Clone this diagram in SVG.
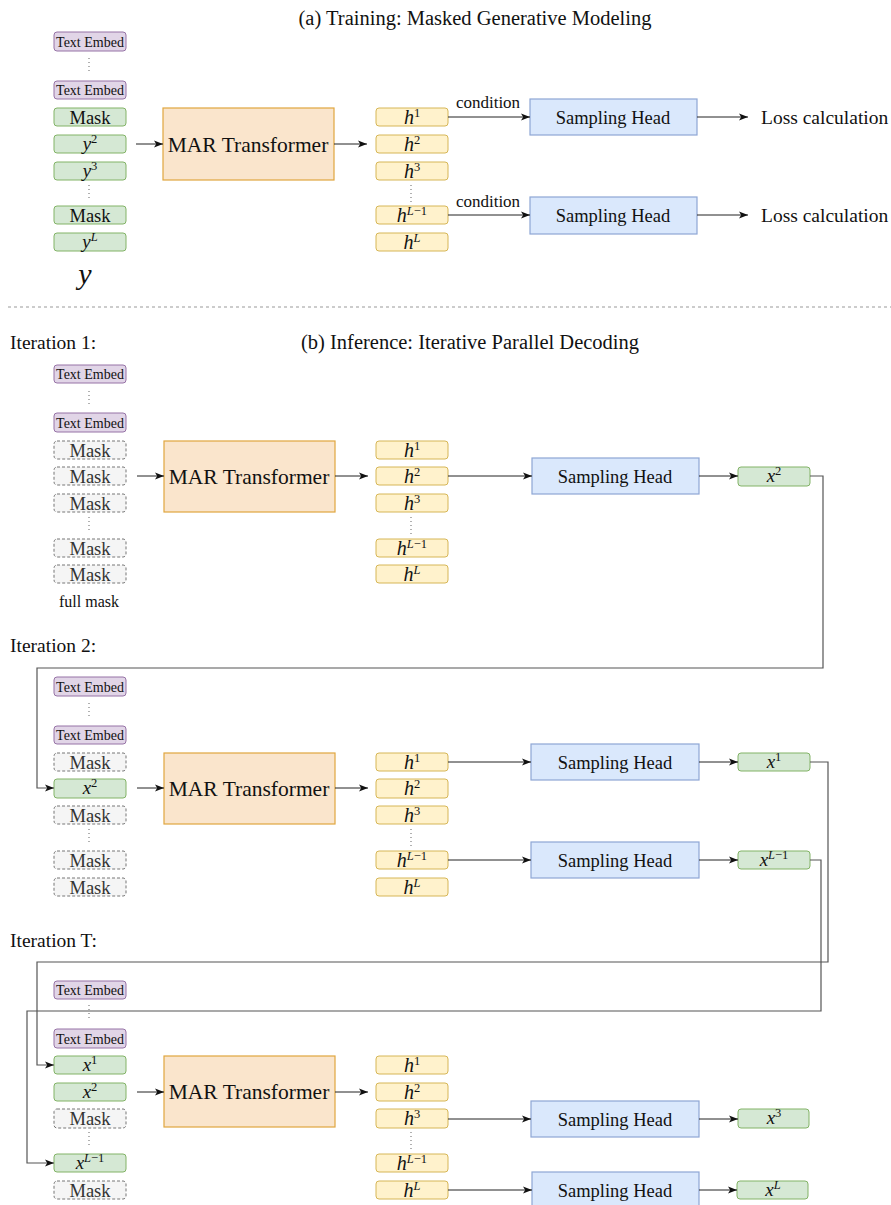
<svg xmlns="http://www.w3.org/2000/svg" width="891" height="1205" viewBox="0 0 891 1205">
<defs>
<marker id="ah" markerUnits="userSpaceOnUse" markerWidth="10" markerHeight="8" refX="9" refY="4" orient="auto">
<path d="M0,0.5 L9,4 L0,7.5 L2.2,4 z" fill="#111"/>
</marker>
<style>
text{font-family:"Liberation Serif","Times New Roman",serif;fill:#111}
.te rect{fill:#e1d5e7;stroke:#9673a6;stroke-width:1}
.te text{font-size:14px;text-anchor:middle}
.gm rect{fill:#d5e8d4;stroke:#82b366;stroke-width:1}
.gm text{font-size:18.5px;text-anchor:middle}
.dm rect{fill:#f5f5f5;stroke:#777;stroke-width:1;stroke-dasharray:3,2}
.dm text{font-size:18.5px;text-anchor:middle;fill:#333}
.hb rect{fill:#fff2cc;stroke:#d6b656;stroke-width:1}
.hb text{font-size:20px}
.hb text,.gm text.m{font-style:italic;text-anchor:middle}
.gm text.m{font-size:19px}
.s{font-size:12.5px}
.mar rect{fill:#fae5cc;stroke:#e0a63e;stroke-width:1.2}
.mar text{font-size:21.5px;text-anchor:middle}
.sh rect{fill:#dae8fc;stroke:#8ea6d4;stroke-width:1.2}
.sh text{font-size:18.5px;text-anchor:middle}
.up{font-style:normal}
.lbl{font-size:19.5px}
.ttl{font-size:20.5px}
.it{font-size:19.5px}
.cond{font-size:17px;text-anchor:middle}
.dots line{stroke:#888;stroke-width:1.3;stroke-dasharray:1,3}
.conn path{fill:none;stroke:#222;stroke-width:1}
.fb path{fill:none;stroke:#555;stroke-width:1.2}
</style>
</defs>
<rect width="891" height="1205" fill="#fff"/>

<!-- titles -->
<text class="ttl" x="475" y="25" text-anchor="middle">(a) Training: Masked Generative Modeling</text>
<text class="ttl" x="470" y="349" text-anchor="middle">(b) Inference: Iterative Parallel Decoding</text>
<text class="it" x="10" y="349">Iteration 1:</text>
<text class="it" x="10" y="652">Iteration 2:</text>
<text class="it" x="10" y="947">Iteration T:</text>
<line x1="8" y1="307" x2="891" y2="307" stroke="#999" stroke-width="1" stroke-dasharray="3,3"/>

<!-- ===== Section (a) ===== -->
<g id="a-te1" class="te"><rect x="54" y="32" width="72" height="19" rx="3"/><text x="90" y="46.5">Text Embed</text></g>
<g id="a-te2" class="te"><rect x="54" y="81" width="72" height="18" rx="3"/><text x="90" y="95">Text Embed</text></g>
<g id="a-mask1" class="gm"><rect x="54" y="108" width="72" height="18" rx="3"/><text x="90" y="123.5">Mask</text></g>
<g id="a-y2" class="gm"><rect x="54" y="135" width="72" height="18" rx="3"/><text class="m" x="90" y="150">y<tspan class="up s" dy="-7.5">2</tspan></text></g>
<g id="a-y3" class="gm"><rect x="54" y="162" width="72" height="18" rx="3"/><text class="m" x="90" y="177">y<tspan class="up s" dy="-7.5">3</tspan></text></g>
<g id="a-mask2" class="gm"><rect x="54" y="206" width="72" height="18" rx="3"/><text x="90" y="221.5">Mask</text></g>
<g id="a-yL" class="gm"><rect x="54" y="233" width="72" height="18" rx="3"/><text class="m" x="90" y="248">y<tspan class="s" dy="-7.5">L</tspan></text></g>
<text x="85" y="284" font-size="30" font-style="italic" text-anchor="middle">y</text>

<g id="a-mar" class="mar"><rect x="163" y="108" width="171" height="72"/><text x="248" y="151.5">MAR Transformer</text></g>

<g id="a-h1" class="hb"><rect x="376" y="108" width="72" height="18" rx="3"/><text x="412" y="124">h<tspan class="up s" dy="-7.5">1</tspan></text></g>
<g id="a-h2" class="hb"><rect x="376" y="135" width="72" height="18" rx="3"/><text x="412" y="151">h<tspan class="up s" dy="-7.5">2</tspan></text></g>
<g id="a-h3" class="hb"><rect x="376" y="162" width="72" height="18" rx="3"/><text x="412" y="178">h<tspan class="up s" dy="-7.5">3</tspan></text></g>
<g id="a-hL1" class="hb"><rect x="376" y="206" width="72" height="18" rx="3"/><text x="412" y="222">h<tspan class="s" dy="-7.5">L</tspan><tspan class="up s">−1</tspan></text></g>
<g id="a-hL" class="hb"><rect x="376" y="233" width="72" height="18" rx="3"/><text x="412" y="249">h<tspan class="s" dy="-7.5">L</tspan></text></g>

<g id="a-sh1" class="sh"><rect x="530" y="99" width="167" height="36"/><text x="613" y="123.5">Sampling Head</text></g>
<g id="a-sh2" class="sh"><rect x="530" y="197" width="167" height="37"/><text x="613" y="222">Sampling Head</text></g>
<text class="lbl" x="761" y="123.5">Loss calculation</text>
<text class="lbl" x="761" y="222">Loss calculation</text>
<text class="cond" x="488" y="108">condition</text>
<text class="cond" x="488" y="207">condition</text>

<!-- ===== Iteration 1 ===== -->
<g id="b1-te1" class="te"><rect x="54" y="365" width="72" height="18" rx="3"/><text x="90" y="379">Text Embed</text></g>
<g id="b1-te2" class="te"><rect x="54" y="413" width="72" height="19" rx="3"/><text x="90" y="427.5">Text Embed</text></g>
<g id="b1-m1" class="dm"><rect x="54" y="441" width="72" height="18" rx="3"/><text x="90" y="456.5">Mask</text></g>
<g id="b1-m2" class="dm"><rect x="54" y="467" width="72" height="18" rx="3"/><text x="90" y="482.5">Mask</text></g>
<g id="b1-m3" class="dm"><rect x="54" y="494" width="72" height="18" rx="3"/><text x="90" y="509.5">Mask</text></g>
<g id="b1-m4" class="dm"><rect x="54" y="539" width="72" height="18" rx="3"/><text x="90" y="554.5">Mask</text></g>
<g id="b1-m5" class="dm"><rect x="54" y="565" width="72" height="18" rx="3"/><text x="90" y="580.5">Mask</text></g>
<text x="89" y="607" font-size="16" text-anchor="middle">full mask</text>

<g id="b1-mar" class="mar"><rect x="164" y="441" width="171" height="71"/><text x="249" y="484">MAR Transformer</text></g>

<g id="b1-h1" class="hb"><rect x="376" y="441" width="72" height="18" rx="3"/><text x="412" y="457">h<tspan class="up s" dy="-7.5">1</tspan></text></g>
<g id="b1-h2" class="hb"><rect x="376" y="467" width="72" height="18" rx="3"/><text x="412" y="483">h<tspan class="up s" dy="-7.5">2</tspan></text></g>
<g id="b1-h3" class="hb"><rect x="376" y="494" width="72" height="18" rx="3"/><text x="412" y="510">h<tspan class="up s" dy="-7.5">3</tspan></text></g>
<g id="b1-hL1" class="hb"><rect x="376" y="539" width="72" height="18" rx="3"/><text x="412" y="555">h<tspan class="s" dy="-7.5">L</tspan><tspan class="up s">−1</tspan></text></g>
<g id="b1-hL" class="hb"><rect x="376" y="565" width="72" height="18" rx="3"/><text x="412" y="581">h<tspan class="s" dy="-7.5">L</tspan></text></g>

<g id="b1-sh" class="sh"><rect x="532" y="458" width="167" height="36"/><text x="615" y="482.5">Sampling Head</text></g>
<g id="b1-x2" class="gm"><rect x="738" y="467" width="72" height="19" rx="3"/><text class="m" x="774" y="482">x<tspan class="up s" dy="-7.5">2</tspan></text></g>

<!-- ===== Iteration 2 ===== -->
<g id="b2-te1" class="te"><rect x="54" y="677" width="72" height="19" rx="3"/><text x="90" y="691.5">Text Embed</text></g>
<g id="b2-te2" class="te"><rect x="54" y="726" width="72" height="18" rx="3"/><text x="90" y="740">Text Embed</text></g>
<g id="b2-m1" class="dm"><rect x="54" y="753" width="72" height="18" rx="3"/><text x="90" y="768.5">Mask</text></g>
<g id="b2-x2" class="gm"><rect x="54" y="779" width="72" height="19" rx="3"/><text class="m" x="90" y="794">x<tspan class="up s" dy="-7.5">2</tspan></text></g>
<g id="b2-m2" class="dm"><rect x="54" y="806" width="72" height="18" rx="3"/><text x="90" y="821.5">Mask</text></g>
<g id="b2-m3" class="dm"><rect x="54" y="851" width="72" height="18" rx="3"/><text x="90" y="866.5">Mask</text></g>
<g id="b2-m4" class="dm"><rect x="54" y="878" width="72" height="18" rx="3"/><text x="90" y="893.5">Mask</text></g>

<g id="b2-mar" class="mar"><rect x="164" y="753" width="171" height="71"/><text x="249" y="796">MAR Transformer</text></g>

<g id="b2-h1" class="hb"><rect x="376" y="753" width="72" height="18" rx="3"/><text x="412" y="769">h<tspan class="up s" dy="-7.5">1</tspan></text></g>
<g id="b2-h2" class="hb"><rect x="376" y="779" width="72" height="19" rx="3"/><text x="412" y="795">h<tspan class="up s" dy="-7.5">2</tspan></text></g>
<g id="b2-h3" class="hb"><rect x="376" y="806" width="72" height="18" rx="3"/><text x="412" y="822">h<tspan class="up s" dy="-7.5">3</tspan></text></g>
<g id="b2-hL1" class="hb"><rect x="376" y="851" width="72" height="18" rx="3"/><text x="412" y="867">h<tspan class="s" dy="-7.5">L</tspan><tspan class="up s">−1</tspan></text></g>
<g id="b2-hL" class="hb"><rect x="376" y="878" width="72" height="18" rx="3"/><text x="412" y="894">h<tspan class="s" dy="-7.5">L</tspan></text></g>

<g id="b2-sh1" class="sh"><rect x="531" y="744" width="168" height="36"/><text x="615" y="768.5">Sampling Head</text></g>
<g id="b2-sh2" class="sh"><rect x="531" y="842" width="168" height="36"/><text x="615" y="866.5">Sampling Head</text></g>
<g id="b2-x1" class="gm"><rect x="738" y="753" width="72" height="18" rx="3"/><text class="m" x="774" y="768">x<tspan class="up s" dy="-7.5">1</tspan></text></g>
<g id="b2-xL1" class="gm"><rect x="738" y="851" width="72" height="18" rx="3"/><text class="m" x="774" y="866">x<tspan class="s" dy="-7.5">L</tspan><tspan class="up s">−1</tspan></text></g>

<!-- ===== Iteration T ===== -->
<g id="bT-te1" class="te"><rect x="54" y="981" width="72" height="18" rx="3"/><text x="90" y="995">Text Embed</text></g>
<g id="bT-te2" class="te"><rect x="54" y="1029" width="72" height="19" rx="3"/><text x="90" y="1043.5">Text Embed</text></g>
<g id="bT-x1" class="gm"><rect x="54" y="1056" width="72" height="18" rx="3"/><text class="m" x="90" y="1071">x<tspan class="up s" dy="-7.5">1</tspan></text></g>
<g id="bT-x2" class="gm"><rect x="54" y="1083" width="72" height="18" rx="3"/><text class="m" x="90" y="1098">x<tspan class="up s" dy="-7.5">2</tspan></text></g>
<g id="bT-m1" class="dm"><rect x="54" y="1109" width="72" height="19" rx="3"/><text x="90" y="1125">Mask</text></g>
<g id="bT-xL1" class="gm"><rect x="54" y="1154" width="72" height="18" rx="3"/><text class="m" x="90" y="1169">x<tspan class="s" dy="-7.5">L</tspan><tspan class="up s">−1</tspan></text></g>
<g id="bT-m2" class="dm"><rect x="54" y="1181" width="72" height="18" rx="3"/><text x="90" y="1196.5">Mask</text></g>

<g id="bT-mar" class="mar"><rect x="164" y="1056" width="171" height="71"/><text x="249" y="1099">MAR Transformer</text></g>

<g id="bT-h1" class="hb"><rect x="376" y="1056" width="72" height="18" rx="3"/><text x="412" y="1072">h<tspan class="up s" dy="-7.5">1</tspan></text></g>
<g id="bT-h2" class="hb"><rect x="376" y="1083" width="72" height="18" rx="3"/><text x="412" y="1099">h<tspan class="up s" dy="-7.5">2</tspan></text></g>
<g id="bT-h3" class="hb"><rect x="376" y="1109" width="72" height="19" rx="3"/><text x="412" y="1125">h<tspan class="up s" dy="-7.5">3</tspan></text></g>
<g id="bT-hL1" class="hb"><rect x="376" y="1154" width="72" height="18" rx="3"/><text x="412" y="1170">h<tspan class="s" dy="-7.5">L</tspan><tspan class="up s">−1</tspan></text></g>
<g id="bT-hL" class="hb"><rect x="376" y="1181" width="72" height="18" rx="3"/><text x="412" y="1197">h<tspan class="s" dy="-7.5">L</tspan></text></g>

<g id="bT-sh1" class="sh"><rect x="531" y="1101" width="168" height="36"/><text x="615" y="1125.5">Sampling Head</text></g>
<g id="bT-sh2" class="sh"><rect x="532" y="1172" width="167" height="40"/><text x="615" y="1196.5">Sampling Head</text></g>
<g id="bT-x3" class="gm"><rect x="738" y="1109" width="71" height="19" rx="3"/><text class="m" x="774" y="1124">x<tspan class="up s" dy="-7.5">3</tspan></text></g>
<g id="bT-xL" class="gm"><rect x="737" y="1181" width="71" height="18" rx="3"/><text class="m" x="773" y="1196">x<tspan class="s" dy="-7.5">L</tspan></text></g>

<!-- vertical ellipses -->
<g class="dots">
<line x1="89" y1="58" x2="89" y2="74"/>
<line x1="89" y1="185" x2="89" y2="201"/>
<line x1="411" y1="185" x2="411" y2="202"/>
<line x1="89" y1="391" x2="89" y2="407"/>
<line x1="89" y1="517" x2="89" y2="533"/>
<line x1="411" y1="517" x2="411" y2="534"/>
<line x1="89" y1="703" x2="89" y2="719"/>
<line x1="89" y1="829" x2="89" y2="845"/>
<line x1="411" y1="829" x2="411" y2="846"/>
<line x1="89" y1="1005" x2="89" y2="1021"/>
<line x1="89" y1="1132" x2="89" y2="1148"/>
<line x1="411" y1="1132" x2="411" y2="1149"/>
</g>

<!-- connectors -->
<g id="connectors" class="conn">
<path d="M136,144 H163" marker-end="url(#ah)"/>
<path d="M334,144 H367" marker-end="url(#ah)"/>
<path d="M448,117 H530" marker-end="url(#ah)"/>
<path d="M448,215 H530" marker-end="url(#ah)"/>
<path d="M697,117 H748" marker-end="url(#ah)"/>
<path d="M697,215 H748" marker-end="url(#ah)"/>

<path d="M137,476 H164" marker-end="url(#ah)"/>
<path d="M335,476 H368" marker-end="url(#ah)"/>
<path d="M448,476 H532" marker-end="url(#ah)"/>
<path d="M699,476 H738" marker-end="url(#ah)"/>

<path d="M137,788 H164" marker-end="url(#ah)"/>
<path d="M335,788 H368" marker-end="url(#ah)"/>
<path d="M448,762 H531" marker-end="url(#ah)"/>
<path d="M448,860 H531" marker-end="url(#ah)"/>
<path d="M699,762 H738" marker-end="url(#ah)"/>
<path d="M699,860 H738" marker-end="url(#ah)"/>

<path d="M137,1092 H164" marker-end="url(#ah)"/>
<path d="M335,1092 H368" marker-end="url(#ah)"/>
<path d="M448,1119 H531" marker-end="url(#ah)"/>
<path d="M448,1190 H532" marker-end="url(#ah)"/>
<path d="M699,1119 H738" marker-end="url(#ah)"/>
<path d="M699,1190 H737" marker-end="url(#ah)"/>
</g>
<g id="feedback" class="fb">
<path d="M810,476 H823 V668 H37 V788 H54" marker-end="url(#ah)"/>
<path d="M810,762 H828 V962 H37 V1065 H54" marker-end="url(#ah)"/>
<path d="M810,860 H821 V1011 H27 V1163 H54" marker-end="url(#ah)"/>
</g>
</svg>
